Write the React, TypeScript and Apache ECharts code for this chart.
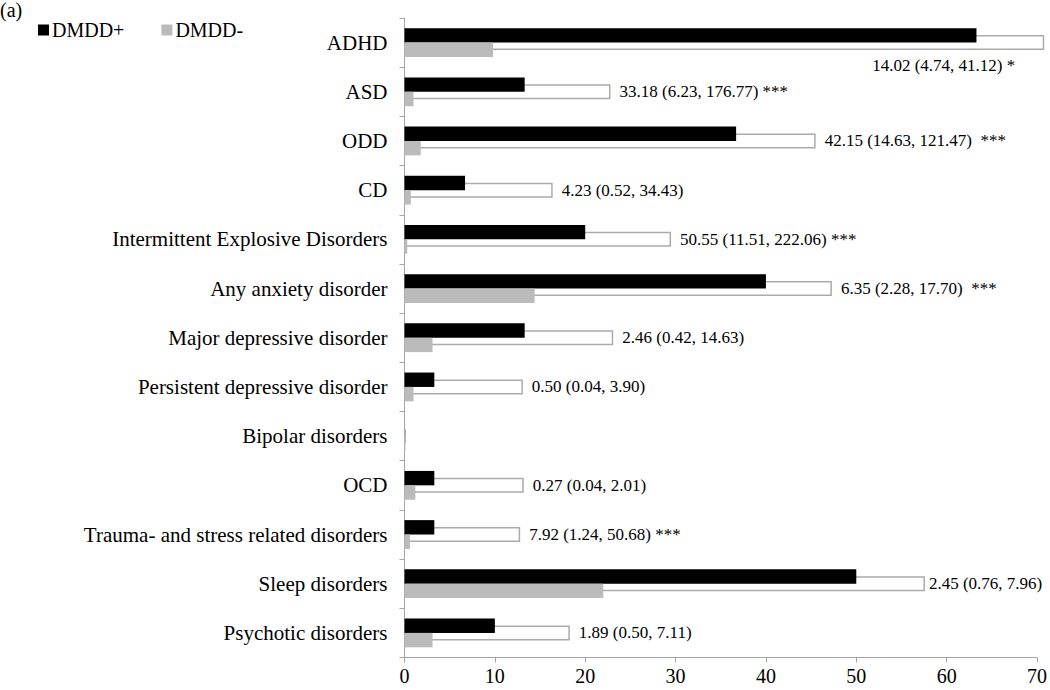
import React, { useEffect, useRef } from "react";
import * as echarts from "echarts";

const categories = [
  "ADHD",
  "ASD",
  "ODD",
  "CD",
  "Intermittent Explosive Disorders",
  "Any anxiety disorder",
  "Major depressive disorder",
  "Persistent depressive disorder",
  "Bipolar disorders",
  "OCD",
  "Trauma- and stress related disorders",
  "Sleep disorders",
  "Psychotic disorders",
];
const dmddPos = [63.3, 13.3, 36.7, 6.7, 20.0, 40.0, 13.3, 3.3, 0, 3.3, 3.3, 50.0, 10.0];
const dmddNeg = [9.8, 1.0, 1.8, 0.7, 0.3, 14.4, 3.1, 1.0, 0.1, 1.2, 0.6, 22.0, 3.1];
const ciUpper = [70.8, 22.8, 45.5, 16.4, 29.5, 47.3, 23.1, 13.1, 0.15, 13.2, 12.8, 57.6, 18.3];
const orLabels = [
  "14.02 (4.74, 41.12) *",
  "33.18 (6.23, 176.77) ***",
  "42.15 (14.63, 121.47)  ***",
  "4.23 (0.52, 34.43)",
  "50.55 (11.51, 222.06) ***",
  "6.35 (2.28, 17.70)  ***",
  "2.46 (0.42, 14.63)",
  "0.50 (0.04, 3.90)",
  "",
  "0.27 (0.04, 2.01)",
  "7.92 (1.24, 50.68) ***",
  "2.45 (0.76, 7.96)",
  "1.89 (0.50, 7.11)",
];
const xTicks = { min: 0, max: 70, interval: 10 };

const FONT = "Liberation Serif";
const AXIS_GRAY = "#a6a6a6";

export default function App() {
  const ref = useRef<HTMLDivElement>(null);
  useEffect(() => {
    if (!ref.current) return;
    const chart = echarts.init(ref.current, null, { renderer: "svg" });
    const boxData = ciUpper.map((v, i) => {
      if (i === 0) {
        return {
          value: v,
          label: {
            position: ["100%", "100%"],
            align: "right",
            verticalAlign: "middle",
            offset: [-29, 15],
          },
        };
      }
      if (categories[i] === "Sleep disorders") {
        return { value: v, label: { distance: 4 } };
      }
      return { value: v };
    });
    chart.setOption({
      animation: false,
      textStyle: { fontFamily: FONT, color: "#000" },
      title: {
        text: "(a)",
        left: 0,
        top: 0,
        padding: 0,
        textStyle: { fontFamily: FONT, fontSize: 20, fontWeight: "normal", color: "#000" },
      },
      legend: {
        data: ["DMDD+", "DMDD-"],
        left: 38,
        top: 20,
        padding: 0,
        itemWidth: 11,
        itemHeight: 11,
        itemGap: 37,
        icon: "rect",
        textStyle: { fontFamily: FONT, fontSize: 20, color: "#000", padding: [0, 0, 0, -2] },
      },
      grid: { left: 404.5, right: 9, top: 18, bottom: 32.5, containLabel: false },
      xAxis: {
        type: "value",
        min: xTicks.min,
        max: xTicks.max,
        interval: xTicks.interval,
        axisLine: { show: true, lineStyle: { color: AXIS_GRAY, width: 1 } },
        axisTick: { show: true, length: 5, lineStyle: { color: AXIS_GRAY } },
        splitLine: { show: false },
        axisLabel: { fontFamily: FONT, fontSize: 20, color: "#000", margin: 8 },
      },
      yAxis: [
        {
          type: "category",
          data: categories,
          inverse: true,
          axisLine: { show: true, lineStyle: { color: AXIS_GRAY, width: 1 } },
          axisTick: { show: true, length: 5, lineStyle: { color: AXIS_GRAY } },
          axisLabel: { fontFamily: FONT, fontSize: 21, color: "#000", margin: 17 },
          splitLine: { show: false },
        },
        {
          type: "category",
          data: categories,
          inverse: true,
          show: false,
        },
      ],
      series: [
        {
          name: "CI",
          type: "bar",
          yAxisIndex: 1,
          data: boxData,
          barWidth: 15,
          z: 1,
          clip: false,
          itemStyle: { color: "#ffffff", borderColor: "#ababab", borderWidth: 1.5 },
          label: {
            show: true,
            position: "right",
            distance: 9,
            fontFamily: FONT,
            fontSize: 17,
            color: "#000",
            formatter: (p: any) => orLabels[p.dataIndex],
          },
          silent: true,
        },
        {
          name: "DMDD+",
          type: "bar",
          data: dmddPos,
          barWidth: 14.4,
          barGap: "0%",
          z: 2,
          itemStyle: { color: "#000000" },
        },
        {
          name: "DMDD-",
          type: "bar",
          data: dmddNeg,
          barWidth: 14.4,
          barGap: "0%",
          z: 2,
          itemStyle: { color: "#bbbbbb" },
        },
      ],
    });
    return () => chart.dispose();
  }, []);
  return (
    <div
      ref={ref}
      style={{ position: "fixed", left: 0, top: 0, width: 1050, height: 690, background: "#fff" }}
    />
  );
}
